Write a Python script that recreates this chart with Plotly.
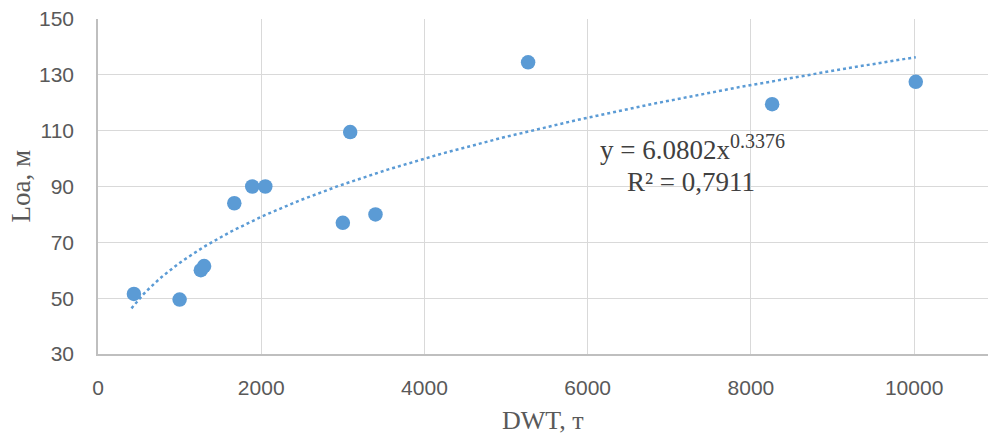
import numpy as np
import plotly.graph_objects as go

# Data
dwt = [440, 1000, 1260, 1300, 1670, 1890, 2050, 3000, 3090, 3400, 5270, 8260, 10020]
loa = [51.5, 49.5, 60, 61.5, 84, 90, 90, 77, 109.5, 80, 134.5, 119.5, 127.5]

# Power trendline shown on the chart: y = a * x^b
trend_a = 6.0802
trend_b = 0.3376
r2_text = "0,7911"

x_ticks = [0, 2000, 4000, 6000, 8000, 10000]
y_ticks = [30, 50, 70, 90, 110, 130, 150]

blue = "#5B9BD5"
grey_text = "#595959"

tx = np.linspace(min(dwt) - 30, max(dwt), 200)
ty = trend_a * tx ** trend_b

fig = go.Figure()
fig.add_trace(go.Scatter(
    x=tx, y=ty, mode="lines",
    line=dict(color=blue, width=2.5, dash="dot"),
    hoverinfo="skip", showlegend=False,
))
fig.add_trace(go.Scatter(
    x=dwt, y=loa, mode="markers",
    marker=dict(color=blue, size=14.5, line=dict(width=0)),
    showlegend=False,
))

fig.update_layout(
    width=988, height=434,
    margin=dict(l=98, r=0, t=19, b=80),
    paper_bgcolor="white", plot_bgcolor="white",
    font=dict(family="Liberation Sans, Arial, sans-serif", color=grey_text),
)
fig.update_xaxes(
    range=[0, 10905], tickvals=x_ticks, ticktext=[str(v) for v in x_ticks],
    showgrid=True, gridcolor="#D9D9D9", gridwidth=1.3,
    showline=True, linecolor="#BFBFBF", linewidth=1.5,
    zeroline=False, ticks="", tickfont=dict(size=21, color=grey_text),
    ticklabelstandoff=14,
)
fig.update_yaxes(
    range=[29.99, 150.01], tickvals=y_ticks, ticktext=[str(v) for v in y_ticks],
    showgrid=True, gridcolor="#D9D9D9", gridwidth=1.3,
    showline=True, linecolor="#BFBFBF", linewidth=1.5,
    zeroline=False, ticks="", tickfont=dict(size=21, color=grey_text),
    ticklabelstandoff=18,
)

serif = "Liberation Serif, Times New Roman, serif"
fig.add_annotation(
    x=0.5, y=0, xref="paper", yref="paper", yshift=-66,
    text="DWT, т", showarrow=False,
    font=dict(family=serif, size=26, color=grey_text),
    xanchor="center", yanchor="middle",
)
fig.add_annotation(
    x=0, y=0.5, xref="paper", yref="paper", xshift=-78,
    text="Loa, м", showarrow=False, textangle=-90,
    font=dict(family=serif, size=27, color=grey_text),
    xanchor="center", yanchor="middle",
)
fig.add_annotation(
    x=7290, y=103.9, xref="x", yref="y",
    text=f"y = {trend_a}x<sup><span style='font-size:20px'>{trend_b}</span></sup>",
    showarrow=False,
    font=dict(family=serif, size=27, color="#404040"),
    xanchor="center", yanchor="middle",
)
fig.add_annotation(
    x=7260, y=91.6, xref="x", yref="y",
    text=f"R² = {r2_text}", showarrow=False,
    font=dict(family=serif, size=27, color="#404040"),
    xanchor="center", yanchor="middle",
)

fig.write_html(
    "out.html",
    config={"displayModeBar": False},
    post_script="document.body.style.margin='0';document.body.style.overflow='hidden';",
)
